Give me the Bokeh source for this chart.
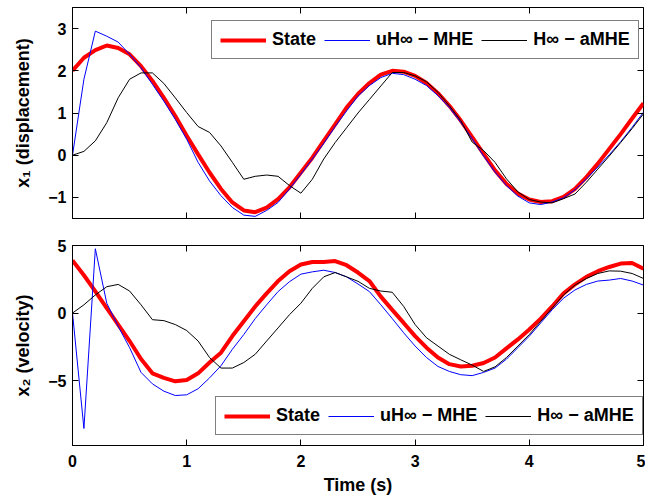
from bokeh.plotting import figure
from bokeh.layouts import column
from bokeh.models import (FixedTicker, LinearAxis, Legend, LegendItem,
                          CustomJSTickFormatter, Range1d)
from bokeh.embed import file_html
from bokeh.resources import INLINE

# ---------------- data ----------------
time_s = [0.0, 0.1, 0.2, 0.3, 0.4, 0.5, 0.6, 0.7, 0.8, 0.9,
          1.0, 1.1, 1.2, 1.3, 1.4, 1.5, 1.6, 1.7, 1.8, 1.9,
          2.0, 2.1, 2.2, 2.3, 2.4, 2.5, 2.6, 2.7, 2.8, 2.9,
          3.0, 3.1, 3.2, 3.3, 3.4, 3.5, 3.6, 3.7, 3.8, 3.9,
          4.0, 4.1, 4.2, 4.3, 4.4, 4.5, 4.6, 4.7, 4.8, 4.9, 5.0]

x1_state = [2.00, 2.31, 2.49, 2.60, 2.54, 2.39, 2.11, 1.76, 1.36, 0.93, 0.46,
            0.02, -0.41, -0.80, -1.12, -1.31, -1.35, -1.24, -1.04, -0.76, -0.41,
            -0.06, 0.34, 0.73, 1.13, 1.45, 1.71, 1.91, 2.00, 1.98, 1.88,
            1.71, 1.47, 1.17, 0.82, 0.43, 0.03, -0.36, -0.68, -0.91, -1.05,
            -1.11, -1.09, -0.99, -0.80, -0.52, -0.20, 0.15, 0.50, 0.87, 1.23]
x1_uh_mhe = [0.00, 1.80, 2.94, 2.82, 2.68, 2.39, 2.07, 1.68, 1.28, 0.85, 0.38,
             -0.17, -0.61, -0.96, -1.24, -1.42, -1.45, -1.31, -1.12, -0.80, -0.45,
             -0.09, 0.28, 0.68, 1.05, 1.40, 1.65, 1.84, 1.94, 1.91, 1.80,
             1.65, 1.41, 1.13, 0.78, 0.39, -0.02, -0.40, -0.72, -0.97, -1.13,
             -1.17, -1.11, -1.01, -0.82, -0.56, -0.28, 0.01, 0.32, 0.66, 1.02]
x1_h_amhe = [0.00, 0.09, 0.34, 0.77, 1.36, 1.80, 1.95, 1.95, 1.70, 1.36, 1.01,
             0.68, 0.54, 0.22, -0.17, -0.57, -0.50, -0.47, -0.50, -0.72, -0.90,
             -0.57, -0.09, 0.30, 0.65, 1.00, 1.32, 1.64, 1.96, 1.96, 1.88,
             1.74, 1.49, 1.17, 0.82, 0.31, 0.11, -0.17, -0.56, -0.87, -1.05,
             -1.11, -1.13, -1.03, -0.92, -0.64, -0.33, -0.02, 0.30, 0.63, 0.98]

x2_state = [3.90, 2.80, 1.60, 0.37, -0.85, -2.07, -3.40, -4.46, -4.80, -5.05, -4.95,
            -4.46, -3.66, -2.93, -1.70, -0.60, 0.49, 1.46, 2.37, 3.10, 3.59,
            3.78, 3.78, 3.85, 3.54, 3.00, 2.37, 1.22, 0.24, -0.73, -1.71,
            -2.56, -3.29, -3.78, -3.95, -3.90, -3.70, -3.29, -2.61, -1.95, -1.22,
            -0.41, 0.49, 1.46, 2.12, 2.68, 3.10, 3.41, 3.66, 3.70, 3.29]
x2_uh_mhe = [0.00, -8.54, 4.76, 0.73, -0.98, -2.56, -4.39, -5.24, -5.78, -6.10, -6.05,
             -5.60, -4.80, -3.90, -2.68, -1.59, -0.41, 0.61, 1.59, 2.32, 2.88,
             3.05, 3.17, 3.00, 2.68, 2.15, 1.59, 0.61, -0.41, -1.46, -2.44,
             -3.29, -3.95, -4.32, -4.56, -4.63, -4.39, -4.07, -3.41, -2.56, -1.71,
             -0.73, 0.24, 1.10, 1.71, 2.12, 2.37, 2.44, 2.56, 2.37, 2.07]
x2_h_amhe = [0.00, 0.61, 1.34, 1.95, 2.12, 1.63, 0.61, -0.49, -0.56, -0.85, -1.29,
             -2.07, -3.29, -4.07, -4.07, -3.66, -3.05, -2.07, -1.10, -0.12, 0.73,
             1.83, 2.68, 3.00, 2.68, 2.35, 1.83, 1.63, 1.54, 0.49, -0.85,
             -1.83, -2.44, -3.05, -3.46, -3.85, -4.32, -3.98, -3.29, -2.44, -1.59,
             -0.61, 0.37, 1.34, 2.07, 2.56, 2.93, 3.12, 3.10, 2.93, 2.56]

x_ticks = [0, 1, 2, 3, 4, 5]
y1_ticks = [-1, 0, 1, 2, 3]
y2_ticks = [-5, 0, 5]
series_labels = ["State", "uH\u221e \u2212 MHE", "H\u221e \u2212 aMHE"]

FONT = "Liberation Sans"
empty_fmt = CustomJSTickFormatter(code="return ''")


def minus_labels(ticks):
    return {t: (("\u2212" + str(abs(t))) if t < 0 else str(t)) for t in ticks}


def base_axis_style(ax):
    ax.major_tick_in = 6
    ax.major_tick_out = 0
    ax.minor_tick_line_color = None
    ax.axis_line_color = "black"
    ax.major_tick_line_color = "black"
    ax.major_label_text_font = FONT
    ax.major_label_text_font_style = "bold"
    ax.major_label_text_font_size = "16px"
    ax.major_label_text_color = "black"
    ax.axis_label_text_font = FONT
    ax.axis_label_text_font_style = "bold"
    ax.axis_label_text_font_size = "18px"
    ax.axis_label_text_color = "black"


def style_axes(p, xt, yt, show_xlabels, xlabel, ylabel):
    p.xgrid.visible = False
    p.ygrid.visible = False
    p.outline_line_color = "black"
    p.outline_line_width = 1
    p.background_fill_color = "white"
    p.border_fill_color = "white"
    xa = p.below[0]
    ya = p.left[0]
    base_axis_style(xa)
    base_axis_style(ya)
    xa.ticker = FixedTicker(ticks=xt)
    ya.ticker = FixedTicker(ticks=yt)
    ya.major_label_overrides = minus_labels(yt)
    ya.major_label_standoff = 6
    ya.axis_label_standoff = 12
    ya.axis_label = ylabel
    xa.major_label_standoff = 9
    xa.axis_label_standoff = 5
    if xlabel:
        xa.axis_label = xlabel
    if not show_xlabels:
        xa.formatter = empty_fmt
        xa.major_label_text_font_size = "0px"
        xa.major_label_standoff = 0
    # mirrored ticks on top and right (box on)
    top = LinearAxis(ticker=FixedTicker(ticks=xt), formatter=empty_fmt,
                     major_tick_in=6, major_tick_out=0, minor_tick_line_color=None,
                     axis_line_color=None, major_label_text_font_size="0px",
                     major_label_standoff=0)
    right = LinearAxis(ticker=FixedTicker(ticks=yt), formatter=empty_fmt,
                       major_tick_in=6, major_tick_out=0, minor_tick_line_color=None,
                       axis_line_color=None, major_label_text_font_size="0px",
                       major_label_standoff=0)
    p.add_layout(top, "above")
    p.add_layout(right, "right")


def add_series(p, y_state, y_uh, y_ha, loc):
    r_state = p.line(time_s, y_state, line_color="#ff0000", line_width=4)
    r_uh = p.line(time_s, y_uh, line_color="#0000ff", line_width=1)
    r_ha = p.line(time_s, y_ha, line_color="black", line_width=1)
    legend = Legend(items=[LegendItem(label=series_labels[0], renderers=[r_state]),
                           LegendItem(label=series_labels[1], renderers=[r_uh]),
                           LegendItem(label=series_labels[2], renderers=[r_ha])],
                    orientation="horizontal", location=loc,
                    label_text_font=FONT, label_text_font_style="bold",
                    label_text_font_size="18px", label_text_color="black",
                    glyph_width=46, glyph_height=20, label_height=20,
                    label_standoff=6, spacing=8, padding=8, margin=0,
                    border_line_color="black", border_line_width=1,
                    background_fill_color="white", background_fill_alpha=1)
    p.add_layout(legend)


p1 = figure(width=645, height=232, x_range=Range1d(0, 5), y_range=Range1d(-1.5, 3.5),
            output_backend="svg", toolbar_location=None,
            min_border_left=72, min_border_right=2, min_border_top=7, min_border_bottom=14)
style_axes(p1, x_ticks, y1_ticks, False, None, "x\u2081 (displacement)")
add_series(p1, x1_state, x1_uh_mhe, x1_h_amhe, (139, 159))

p2 = figure(width=645, height=265, x_range=Range1d(0, 5), y_range=Range1d(-9.8, 5),
            output_backend="svg", toolbar_location=None,
            min_border_left=72, min_border_right=2, min_border_top=13, min_border_bottom=51)
style_axes(p2, x_ticks, y2_ticks, True, "Time (s)", "x\u2082 (velocity)")
add_series(p2, x2_state, x2_uh_mhe, x2_h_amhe, (143, 10))

layout = column(p1, p2, spacing=0)
open("out.html", "w").write(file_html(layout, INLINE))
